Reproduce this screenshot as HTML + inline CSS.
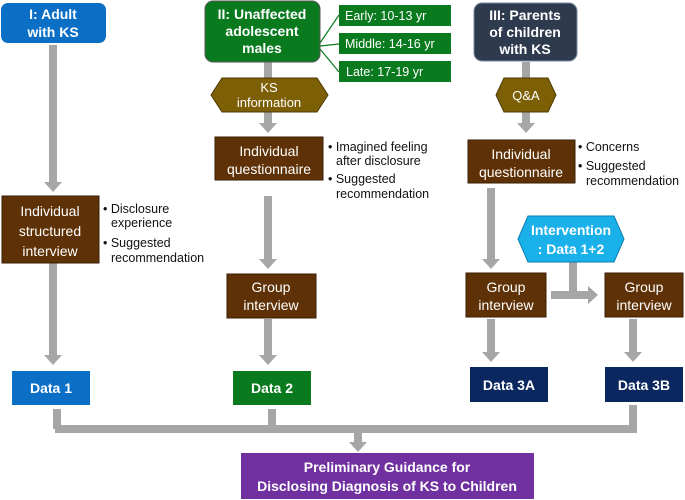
<!DOCTYPE html>
<html><head><meta charset="utf-8"><style>
html,body{margin:0;padding:0;background:#fff;width:685px;height:500px;overflow:hidden}
svg{display:block}
text{font-family:"Liberation Sans",sans-serif}
.w{fill:#fff;font-size:14px;text-anchor:middle}
.b{fill:#fff;font-size:14px;font-weight:bold;text-anchor:middle}
.k{fill:#111;font-size:12.5px}
</style></head><body>
<svg width="685" height="500" viewBox="0 0 685 500">
<g stroke="#a6a6a6" stroke-width="8" fill="none">
<line x1="53" y1="45" x2="53" y2="182"/>
<line x1="53" y1="263" x2="53" y2="355"/>
<line x1="268" y1="62" x2="268" y2="78"/>
<line x1="268" y1="112" x2="268" y2="123"/>
<line x1="268" y1="196" x2="268" y2="259"/>
<line x1="268" y1="319" x2="268" y2="355"/>
<line x1="526" y1="62" x2="526" y2="78"/>
<line x1="526" y1="112" x2="526" y2="123"/>
<line x1="491" y1="188" x2="491" y2="259"/>
<line x1="491" y1="319" x2="491" y2="352"/>
<line x1="633" y1="319" x2="633" y2="352"/>
<line x1="573" y1="262" x2="573" y2="296"/>
<line x1="551" y1="295" x2="588" y2="295"/>
<line x1="57" y1="409" x2="57" y2="429"/>
<line x1="272" y1="409" x2="272" y2="429"/>
<line x1="633" y1="405" x2="633" y2="429"/>
<line x1="55" y1="429" x2="637" y2="429"/>
<line x1="358" y1="429" x2="358" y2="442"/>
</g>
<g fill="#a6a6a6">
<polygon points="44,182 62,182 53,192"/>
<polygon points="44,355 62,355 53,365"/>
<polygon points="259,123 277,123 268,133"/>
<polygon points="259,259 277,259 268,269"/>
<polygon points="259,355 277,355 268,365"/>
<polygon points="517,123 535,123 526,133"/>
<polygon points="482,259 500,259 491,269"/>
<polygon points="482,352 500,352 491,362"/>
<polygon points="624,352 642,352 633,362"/>
<polygon points="588,286 588,304 598,295"/>
<polygon points="349,442 367,442 358,452"/>
</g>
<!-- Box I -->
<rect x="1" y="3" width="105" height="40" rx="7" fill="#0b70c5"/>
<text class="b" x="53" y="19">I: Adult</text><text class="b" x="53" y="37">with KS</text>
<rect x="2" y="196" width="97" height="67" fill="#5e3206" stroke="#3a1e02"/>
<text class="w" x="50" y="216">Individual</text><text class="w" x="50" y="236">structured</text><text class="w" x="50" y="256">interview</text>
<text class="k" x="103" y="213">• Disclosure</text><text class="k" x="111" y="227">experience</text>
<text class="k" x="103" y="247">• Suggested</text><text class="k" x="111" y="262">recommendation</text>
<rect x="12" y="371" width="78" height="34" fill="#0b70c5"/>
<text class="b" x="51" y="393">Data 1</text>
<!-- Box II -->
<g stroke="#0a7a1e" stroke-width="1.2"><line x1="320" y1="43" x2="339" y2="15"/><line x1="320" y1="46" x2="339" y2="44"/><line x1="320" y1="49" x2="339" y2="72"/></g>
<rect x="205" y="1" width="115" height="61" rx="8" fill="#0a7a1e" stroke="#555"/>
<text class="b" x="262" y="19">II: Unaffected</text><text class="b" x="262" y="36">adolescent</text><text class="b" x="262" y="53">males</text>
<rect x="339" y="5" width="112" height="21" fill="#0a7a1e"/><text class="w" x="345" y="20" style="text-anchor:start;font-size:12.5px">Early: 10-13 yr</text>
<rect x="339" y="33" width="112" height="21" fill="#0a7a1e"/><text class="w" x="345" y="48" style="text-anchor:start;font-size:12.5px">Middle: 14-16 yr</text>
<rect x="339" y="61" width="112" height="21" fill="#0a7a1e"/><text class="w" x="346" y="76" style="text-anchor:start;font-size:12.5px">Late: 17-19 yr</text>
<polygon points="222,78 317,78 328,95 317,112 222,112 211,95" fill="#7d5f06" stroke="#4d3a02"/>
<text class="w" x="269" y="92" style="font-size:13px">KS</text><text class="w" x="269" y="107" style="font-size:13px">information</text>
<rect x="215" y="137" width="108" height="43" fill="#5e3206" stroke="#3a1e02"/>
<text class="w" x="269" y="156">Individual</text><text class="w" x="269" y="174">questionnaire</text>
<text class="k" x="328" y="151">• Imagined feeling</text><text class="k" x="336" y="165">after disclosure</text>
<text class="k" x="328" y="183">• Suggested</text><text class="k" x="336" y="198">recommendation</text>
<rect x="227" y="274" width="89" height="44" fill="#5e3206" stroke="#3a1e02"/>
<text class="w" x="271" y="292">Group</text><text class="w" x="271" y="310">interview</text>
<rect x="233" y="371" width="78" height="34" fill="#0a7a1e"/>
<text class="b" x="272" y="393">Data 2</text>
<!-- Box III -->
<rect x="474" y="3" width="103" height="58" rx="8" fill="#2e3b4e" stroke="#7a8aa0"/>
<text class="b" x="525" y="20">III: Parents</text><text class="b" x="525" y="37">of children</text><text class="b" x="525" y="54">with KS</text>
<polygon points="504,78 548,78 556,95 548,112 504,112 496,95" fill="#7d5f06" stroke="#4d3a02"/>
<text class="w" x="526" y="100" style="font-size:13px">Q&amp;A</text>
<rect x="468" y="140" width="107" height="43" fill="#5e3206" stroke="#3a1e02"/>
<text class="w" x="521" y="159">Individual</text><text class="w" x="521" y="177">questionnaire</text>
<text class="k" x="578" y="151">• Concerns</text>
<text class="k" x="578" y="170">• Suggested</text><text class="k" x="586" y="185">recommendation</text>
<polygon points="528,216 614,216 624,239 614,262 528,262 518,239" fill="#1ab0ea" stroke="#0a80b0"/>
<text class="b" x="571" y="235">Intervention</text><text class="b" x="571" y="254">: Data 1+2</text>
<rect x="466" y="273" width="80" height="44" fill="#5e3206" stroke="#3a1e02"/>
<text class="w" x="506" y="292">Group</text><text class="w" x="506" y="310">interview</text>
<rect x="605" y="273" width="78" height="44" fill="#5e3206" stroke="#3a1e02"/>
<text class="w" x="644" y="292">Group</text><text class="w" x="644" y="310">interview</text>
<rect x="470" y="367" width="78" height="35" fill="#0b2760"/>
<text class="b" x="509" y="390">Data 3A</text>
<rect x="605" y="367" width="78" height="35" fill="#0b2760"/>
<text class="b" x="644" y="390">Data 3B</text>
<!-- Final -->
<rect x="241" y="453" width="293" height="46" fill="#7030a0"/>
<text class="b" x="387" y="472">Preliminary Guidance  for</text>
<text class="b" x="387" y="491">Disclosing Diagnosis of KS to Children</text>
</svg>
</body></html>
